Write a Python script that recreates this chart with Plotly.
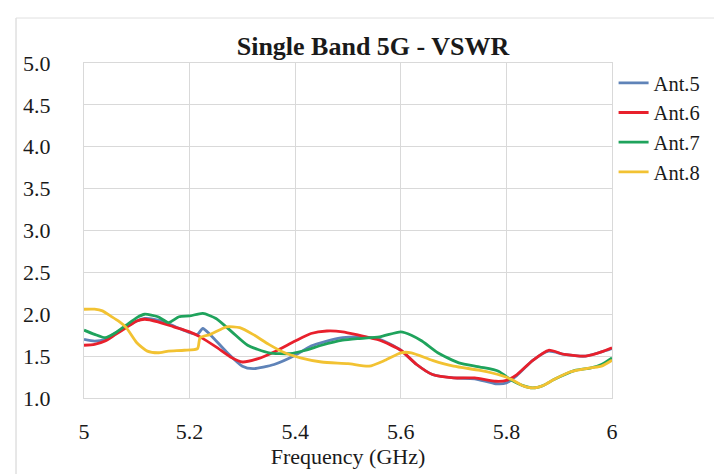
import plotly.graph_objects as go

# ---- data ----
freq_ant5 = [5.00, 5.02, 5.04, 5.06, 5.08, 5.10, 5.115, 5.14, 5.17, 5.20, 5.215, 5.225, 5.24, 5.27, 5.30, 5.32,
             5.36, 5.40, 5.43, 5.46, 5.49, 5.52, 5.56, 5.60, 5.63, 5.66, 5.70, 5.74, 5.78, 5.80, 5.82, 5.85,
             5.88, 5.91, 5.95, 5.98, 6.00]
vswr_ant5 = [1.70, 1.68, 1.70, 1.78, 1.85, 1.92, 1.95, 1.93, 1.86, 1.78, 1.76, 1.83, 1.75, 1.55, 1.38, 1.35,
             1.40, 1.51, 1.62, 1.68, 1.72, 1.73, 1.70, 1.57, 1.40, 1.28, 1.24, 1.23, 1.17, 1.18, 1.27, 1.45,
             1.56, 1.52, 1.50, 1.55, 1.59]

freq_ant6 = [5.00, 5.02, 5.04, 5.06, 5.08, 5.10, 5.115, 5.14, 5.17, 5.20, 5.22, 5.25, 5.28, 5.30, 5.33, 5.36,
             5.40, 5.43, 5.46, 5.49, 5.52, 5.56, 5.60, 5.63, 5.66, 5.70, 5.74, 5.78, 5.80, 5.82, 5.85, 5.88,
             5.91, 5.95, 5.98, 6.00]
vswr_ant6 = [1.63, 1.64, 1.68, 1.76, 1.84, 1.92, 1.94, 1.91, 1.85, 1.79, 1.73, 1.61, 1.48, 1.43, 1.47, 1.55,
             1.68, 1.77, 1.80, 1.79, 1.75, 1.69, 1.57, 1.40, 1.28, 1.24, 1.24, 1.20, 1.21, 1.28, 1.45, 1.57,
             1.52, 1.50, 1.55, 1.60]

freq_ant7 = [5.00, 5.02, 5.04, 5.06, 5.08, 5.10, 5.115, 5.14, 5.16, 5.18, 5.20, 5.225, 5.25, 5.28, 5.31, 5.35,
             5.39, 5.42, 5.45, 5.49, 5.52, 5.56, 5.60, 5.62, 5.64, 5.67, 5.71, 5.75, 5.785, 5.81, 5.83, 5.85,
             5.87, 5.89, 5.93, 5.96, 5.98, 6.00]
vswr_ant7 = [1.81, 1.76, 1.72, 1.78, 1.87, 1.96, 2.00, 1.97, 1.90, 1.97, 1.98, 2.01, 1.95, 1.79, 1.63, 1.54,
             1.53, 1.57, 1.63, 1.69, 1.71, 1.73, 1.79, 1.75, 1.68, 1.54, 1.42, 1.37, 1.32, 1.21, 1.15, 1.12,
             1.15, 1.22, 1.33, 1.36, 1.40, 1.48]

freq_ant8 = [5.00, 5.02, 5.035, 5.05, 5.065, 5.08, 5.10, 5.12, 5.14, 5.16, 5.19, 5.215, 5.22, 5.24, 5.27, 5.295,
             5.32, 5.35, 5.38, 5.41, 5.45, 5.50, 5.54, 5.57, 5.60, 5.62, 5.66, 5.70, 5.75, 5.79, 5.81, 5.83,
             5.85, 5.87, 5.89, 5.92, 5.96, 5.98, 6.00]
vswr_ant8 = [2.06, 2.06, 2.04, 1.98, 1.92, 1.84, 1.66, 1.56, 1.54, 1.56, 1.57, 1.59, 1.72, 1.76, 1.85, 1.84,
             1.76, 1.64, 1.54, 1.48, 1.43, 1.41, 1.38, 1.45, 1.54, 1.54, 1.45, 1.38, 1.33, 1.27, 1.22, 1.15,
             1.12, 1.15, 1.22, 1.31, 1.36, 1.38, 1.45]

series_names = ["Ant.5", "Ant.6", "Ant.7", "Ant.8"]
series_colors = ["#5f83b8", "#e8202c", "#1fa35c", "#f2c232"]

x_ticks = [5, 5.2, 5.4, 5.6, 5.8, 6]
x_tick_labels = ["5", "5.2", "5.4", "5.6", "5.8", "6"]
y_ticks = [1.0, 1.5, 2.0, 2.5, 3.0, 3.5, 4.0, 4.5, 5.0]
y_tick_labels = ["1.0", "1.5", "2.0", "2.5", "3.0", "3.5", "4.0", "4.5", "5.0"]

title_text = "Single Band 5G - VSWR"
x_title = "Frequency (GHz)"

# ---- figure ----
SERIF = "Liberation Serif"
W, H = 714, 466          # page body adds an 8px offset
L, T = 76, 55
PW, PH = 528, 335
fig = go.Figure()
for fx, vy, name, col in zip([freq_ant5, freq_ant6, freq_ant7, freq_ant8],
                             [vswr_ant5, vswr_ant6, vswr_ant7, vswr_ant8],
                             series_names, series_colors):
    fig.add_trace(go.Scatter(x=fx, y=vy, mode="lines", name=name,
                             line=dict(color=col, width=2.8, shape="spline", smoothing=0.6)))

grid_col = "#d9d9d9"
fig.update_layout(
    width=W, height=H,
    margin=dict(l=L, r=W - L - PW, t=T, b=H - T - PH, pad=0),
    paper_bgcolor="white", plot_bgcolor="white",
    font=dict(family=SERIF, size=22, color="#1a1a1a"),
    title=dict(text="<b>" + title_text + "</b>", x=(373 - 8) / W, xanchor="center",
               y=1 - (46 - 8) / H, yanchor="middle", font=dict(family=SERIF, size=26, color="#1a1a1a")),
    showlegend=True,
    legend=dict(x=1.003, xanchor="left", y=1.0, yanchor="top", bgcolor="rgba(0,0,0,0)",
                font=dict(family=SERIF, size=20.5, color="#1a1a1a"), tracegroupgap=0,
                itemwidth=30),
    xaxis=dict(range=[5, 6], tickvals=x_ticks, ticktext=x_tick_labels, showgrid=True,
               gridcolor=grid_col, gridwidth=1, showline=True, linecolor=grid_col, mirror=True,
               zeroline=False, ticks="", ticklabelstandoff=14,
               title=dict(text=x_title, standoff=0, font=dict(family=SERIF, size=22))),
    yaxis=dict(range=[1, 5], tickvals=y_ticks, ticktext=y_tick_labels, showgrid=True,
               gridcolor=grid_col, gridwidth=1, showline=True, linecolor=grid_col, mirror=True,
               zeroline=False, ticks="", ticklabelstandoff=28),
)

# outer chart border
bx = (16 - 8 - L) / PW
by = (T + PH - (18 - 8)) / PH
fig.add_shape(type="line", xref="paper", yref="paper",
              x0=bx, x1=bx, y0=-0.3, y1=by, line=dict(color="#d0d0d0", width=1))
fig.add_shape(type="line", xref="paper", yref="paper",
              x0=bx, x1=1.3, y0=by, y1=by, line=dict(color="#e0e0e0", width=1))

fig.write_html("out.html")
